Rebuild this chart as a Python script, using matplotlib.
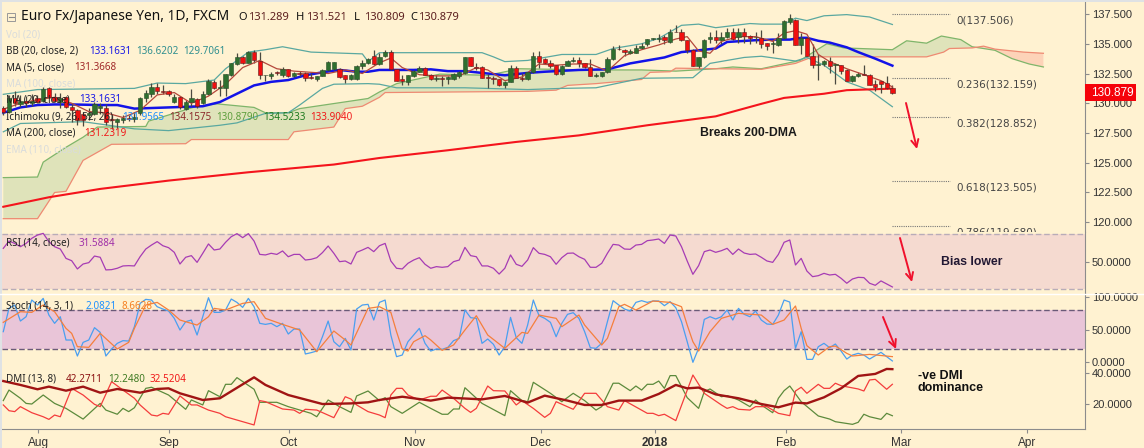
import numpy as np
import matplotlib
matplotlib.use("Agg")
import matplotlib.pyplot as plt
from matplotlib.lines import Line2D
from matplotlib.patches import Rectangle

W, H = 1144, 448
BG = '#fff2d1'

# open, high, low, close, one row per bar
ohlc = [
    (129.6, 129.8, 129.0, 129.3), (129.3, 130.7, 129.2, 130.45), (130.4, 131.0, 129.8, 130.0), (129.9, 130.7, 129.7, 130.2),
    (130.2, 130.6, 129.7, 130.0), (130.0, 130.8, 129.8, 130.2), (130.4, 130.7, 130.0, 130.1), (130.2, 131.4, 130.1, 131.2),
    (131.3, 131.4, 130.4, 130.5), (130.5, 130.9, 130.1, 130.2), (130.1, 130.9, 129.6, 130.4), (130.5, 130.6, 129.6, 129.7),
    (129.7, 129.9, 128.4, 129.4), (129.4, 129.5, 128.2, 128.6), (129.1, 129.3, 128.1, 128.6), (129.0, 129.6, 128.6, 129.2),
    (129.1, 130.1, 129.0, 129.9), (129.6, 130.0, 129.1, 129.75), (129.6, 129.9, 128.2, 128.4), (128.7, 129.1, 127.8, 128.6),
    (128.4, 128.75, 127.9, 128.7), (128.6, 129.0, 128.3, 128.8), (128.8, 129.0, 128.5, 128.65), (128.7, 129.3, 128.4, 128.85),
    (129.2, 130.55, 129.0, 130.4), (130.4, 131.1, 130.1, 130.85), (130.8, 131.7, 130.5, 131.4), (131.4, 131.7, 130.8, 131.0),
    (131.0, 131.55, 130.8, 130.95), (131.0, 131.1, 130.6, 130.75), (130.1, 130.8, 130.0, 130.5), (130.5, 130.6, 129.5, 129.65),
    (129.55, 130.25, 129.4, 130.1), (130.1, 131.2, 129.75, 130.4), (130.35, 130.4, 129.6, 129.8), (130.0, 131.0, 129.9, 130.8),
    (130.75, 132.0, 130.7, 131.85), (131.8, 131.95, 131.2, 131.3), (131.3, 131.95, 130.65, 131.4), (131.3, 132.5, 130.6, 132.45),
    (132.35, 133.4, 132.3, 133.35), (133.3, 134.2, 133.2, 133.85), (133.85, 133.95, 133.3, 133.4), (133.4, 134.4, 133.35, 134.3),
    (134.3, 134.45, 133.4, 133.6), (133.55, 134.3, 132.0, 132.35), (132.35, 132.4, 131.9, 132.4), (132.3, 132.65, 132.0, 132.5),
    (132.65, 132.75, 132.4, 132.55), (132.35, 133.05, 132.2, 132.85), (132.85, 132.9, 132.2, 132.3), (132.3, 132.6, 132.2, 132.55),
    (132.55, 132.7, 132.3, 132.5), (132.55, 132.6, 131.9, 132.15), (132.2, 132.55, 132.0, 132.15), (132.0, 132.3, 131.9, 132.3),
    (132.3, 132.9, 132.25, 132.8), (132.8, 133.55, 132.7, 133.45), (132.9, 133.5, 132.8, 133.45), (132.85, 132.95, 132.1, 132.2),
    (132.35, 132.4, 131.7, 132.0), (132.0, 132.45, 131.95, 132.35), (132.0, 133.2, 131.95, 133.15), (133.15, 133.6, 132.9, 133.4),
    (133.35, 133.8, 133.3, 133.7), (134.0, 134.5, 133.2, 133.3), (133.3, 134.2, 133.2, 133.9), (133.95, 134.5, 133.85, 134.3),
    (134.3, 134.45, 132.8, 132.85), (132.85, 132.9, 131.85, 131.9), (132.05, 132.35, 131.55, 131.9), (131.75, 132.4, 131.55, 132.35),
    (132.3, 132.8, 132.2, 132.7), (132.65, 133.15, 132.6, 133.0), (133.0, 133.05, 132.35, 132.4), (132.4, 132.45, 131.95, 132.0),
    (132.0, 132.35, 131.85, 132.1), (132.1, 132.3, 131.45, 132.05), (132.0, 132.3, 131.6, 132.2), (132.05, 132.55, 131.95, 132.45),
    (132.3, 132.7, 132.15, 132.6), (132.55, 133.9, 132.5, 133.85), (133.85, 133.9, 133.1, 133.1), (133.05, 133.4, 132.8, 132.95),
    (133.05, 133.1, 132.1, 132.15), (132.2, 132.5, 131.25, 132.1), (132.15, 132.3, 131.6, 132.0), (132.0, 132.05, 131.45, 131.5),
    (131.5, 131.85, 131.25, 131.8), (131.8, 133.2, 131.75, 133.0), (133.0, 133.1, 132.1, 132.15), (132.15, 132.55, 131.85, 132.0),
    (132.0, 132.65, 131.95, 132.6), (132.6, 134.3, 132.55, 134.0), (134.0, 134.35, 132.95, 133.45), (133.75, 133.8, 133.3, 133.35),
    (133.35, 133.65, 132.95, 133.15), (133.2, 133.25, 132.35, 132.5), (132.45, 133.2, 132.4, 133.15), (133.15, 133.6, 133.1, 133.55),
    (133.55, 133.9, 133.5, 133.65), (133.6, 133.85, 133.05, 133.35), (133.35, 133.4, 133.0, 133.05), (133.05, 133.7, 132.25, 132.3),
    (132.3, 132.55, 132.2, 132.4), (132.3, 132.65, 132.2, 132.6), (132.6, 133.9, 132.55, 133.7), (133.7, 134.8, 133.6, 134.6),
    (134.6, 134.9, 134.5, 134.55), (134.5, 134.55, 133.95, 134.3), (134.25, 134.6, 134.15, 134.35), (134.25, 134.9, 134.2, 134.65),
    (134.65, 135.05, 134.6, 134.85), (134.95, 135.4, 134.8, 135.4), (135.4, 135.5, 135.35, 135.45), (135.4, 135.8, 135.15, 135.45),
    (135.55, 135.7, 135.0, 135.35), (135.15, 136.2, 135.1, 136.0), (136.0, 136.6, 135.95, 135.95), (136.0, 136.25, 135.25, 135.3),
    (135.3, 135.35, 134.2, 134.5), (134.5, 134.55, 133.15, 133.15), (133.15, 133.9, 133.0, 133.85), (133.85, 135.4, 133.8, 135.35),
    (135.4, 135.95, 135.1, 135.6), (135.6, 136.15, 135.1, 135.35), (135.3, 135.95, 135.0, 135.6), (135.6, 136.3, 135.5, 135.95),
    (135.95, 136.3, 135.3, 135.4), (135.6, 136.3, 135.05, 135.95), (135.95, 136.3, 135.05, 135.65), (135.65, 135.7, 135.0, 135.5),
    (135.55, 135.95, 135.1, 135.6), (135.5, 136.15, 134.65, 135.0), (135.05, 135.1, 134.45, 134.85), (134.95, 135.4, 134.25, 135.05),
    (134.9, 135.9, 134.85, 135.5), (135.5, 137.0, 135.4, 136.95), (136.85, 137.5, 136.7, 137.2), (137.0, 137.05, 134.9, 134.9),
    (134.9, 135.9, 134.1, 135.5), (135.5, 135.55, 134.0, 134.0), (134.0, 135.0, 133.0, 133.2), (133.25, 134.15, 131.95, 133.3),
    (133.3, 133.6, 133.1, 133.55), (133.55, 133.85, 132.55, 133.15), (133.2, 133.4, 131.65, 133.3), (133.2, 133.25, 132.5, 132.7),
    (132.8, 132.85, 131.85, 131.85), (131.85, 132.35, 131.8, 132.3), (132.25, 132.6, 132.2, 132.5), (132.45, 133.2, 132.35, 132.4),
    (132.4, 132.45, 131.5, 131.55), (131.6, 131.95, 131.0, 131.4), (131.85, 131.9, 130.9, 131.65), (131.7, 132.25, 131.2, 131.3),
    (131.289, 131.521, 130.809, 130.879),
]

ma5_x = [0, 3, 6, 9, 12, 15, 18, 21, 24, 27, 30, 33, 36, 39, 42, 45, 48, 51, 54, 57, 60, 63, 66, 68, 70, 73, 76, 80, 83, 85, 88, 91, 94,
         97, 100, 103, 106, 109, 112, 115, 118, 120, 122, 124, 126, 129, 132, 135, 137, 139, 141, 143, 145, 148, 151, 154, 156]
ma5_y = [129.5, 130, 130.3, 130.5, 130, 129.3, 129.2, 128.8, 129.4, 130.7, 130.9, 130, 130.6, 131.6, 133, 133.6, 132.9, 132.7, 132.6, 132.5,
         132.8, 132.5, 133.4, 133.8, 133, 132.4, 132.3, 132.3, 133, 132.8, 131.9, 132.2, 133.3, 133.2, 133.3, 133.3, 132.7, 134, 134.5, 134.9,
         135.4, 135.6, 134.4, 134.2, 135.2, 135.6, 135.6, 135.2, 135.9, 136.1, 135.8, 134.1, 133.5, 132.9, 132.4, 131.9, 131.37]

bb_mid_x = [0, 3, 6, 9, 12, 17, 20, 23, 29, 35, 38, 41, 44, 47, 50, 53, 56, 59, 62, 64, 66, 72, 75, 78, 81, 84, 88, 92, 95, 101, 106, 110,
            113, 116, 119, 122, 125, 127, 132, 135, 138, 140, 141, 143, 145, 148, 150, 153, 156]
bb_mid_y = [129.2, 129.65, 129.85, 129.9, 129.9, 129.85, 129.85, 129.55, 129.65, 129.75, 130.1, 130.8, 131.5, 131.8, 131.95, 132.35, 132.6,
            132.8, 132.65, 132.65, 132.8, 132.8, 132.85, 132.7, 132.7, 132.55, 132.35, 132.55, 132.65, 132.8, 132.85, 133.35, 133.6, 133.85,
            134.3, 134.45, 134.6, 135.15, 135.3, 135.35, 135.35, 135.5, 135.5, 135.25, 135.1, 134.7, 134.3, 133.75, 133.16]

bb_up_x = [0, 6, 23, 27, 32, 37, 39, 43, 46, 49, 54, 63, 64, 66, 72, 84, 86, 88, 92, 98, 104, 107, 112, 115, 119, 122, 125, 131, 133, 137,
           139, 141, 144, 148, 152, 156]
bb_up_y = [130.75, 131.15, 131.25, 131.7, 131.65, 131.95, 132.9, 134.3, 134.5, 134.75, 134.3, 134.15, 133.5, 134.25, 134.25, 134.25, 133.9,
           133.5, 133.6, 134.1, 134.1, 134.6, 135, 135.45, 136.55, 136.65, 136.35, 136.7, 136.65, 136.65, 137.15, 136.95, 137.35, 137.45,
           137.25, 136.62]

bb_lo_x = [0, 3, 14, 23, 29, 38, 41, 46, 50, 52, 56, 58, 64, 66, 69, 75, 81, 92, 98, 104, 112, 121, 124, 130, 133, 139, 141, 144, 148, 152, 156]
bb_lo_y = [127.6, 128.3, 128.45, 127.85, 127.7, 128.15, 128.35, 129.15, 129.2, 129.85, 131.25, 131.6, 131.65, 131.6, 131.3, 131.3, 131.3,
           131.15, 131.25, 131.3, 132.1, 132.15, 133.35, 133.85, 133.95, 133.55, 133.85, 133.2, 131.8, 131.1, 129.71]

ma200_x = [0, 8, 17, 29, 43, 58, 66, 78, 90, 101, 113, 125, 133, 137, 144, 148, 156]
ma200_y = [121.3, 122.1, 122.8, 123.5, 124.2, 124.85, 125.4, 126.05, 126.75, 127.3, 128.15, 128.9, 129.95, 130.45, 130.8, 131.1, 131.23]

span_a_x = [0, 6, 7, 11, 14, 16.5, 25, 25.5, 34, 37.5, 44, 46, 50, 52, 64, 66, 69, 76.6, 85, 90.6, 103.5, 112, 118, 125, 128, 133, 139.8,
            144.5, 147.5, 156, 158.5, 162, 164.6, 168, 170, 174, 177, 180, 182.5]
span_a_y = [123.75, 123.8, 125.05, 126.3, 127.15, 128, 128.05, 128.5, 129.75, 129.95, 129.65, 129.2, 129.2, 129.55, 130.4, 130.95, 131.65,
            132.45, 132.35, 132.9, 132.8, 132.8, 132.7, 132.9, 133.05, 132.9, 133.6, 135, 134.65, 134.5, 135.25, 135.05, 135.65, 135.35,
            134.75, 134.45, 133.75, 133.3, 133.05]

span_b_x = [0, 6, 9, 11, 14, 19, 32, 33, 50, 51, 58, 60, 63, 66, 67, 92, 97, 99, 104, 112, 113.5, 117, 118, 133, 139, 142, 162, 165, 166,
            170, 172, 174, 179, 182.5]
span_b_y = [120.3, 120.3, 122.5, 122.6, 125.2, 126.55, 126.6, 126.95, 126.95, 127.6, 128, 129.55, 129.75, 130.5, 130.9, 131, 131.1, 131.5,
            131.65, 132, 132.6, 132.65, 132.95, 132.85, 133.35, 133.9, 133.9, 134.3, 134.6, 134.65, 134.8, 134.55, 134.3, 134.2]

rsi = [59.7, 65.0, 63.3, 60.9, 63.3, 67.0, 69.4, 70.6, 64.6, 60.9, 59.2, 52.4, 50.7, 44.7, 48.3, 49.3, 54.1, 53.2, 44.0, 44.2,
       45.2, 46.9, 47.1, 46.9, 53.6, 59.2, 62.1, 64.6, 61.6, 60.2, 56.8, 48.3, 53.2, 54.4, 49.5, 56.1, 62.9, 58.5, 59.2, 64.1,
       68.2, 70.4, 67.5, 70.4, 65.0, 55.3, 54.9, 56.1, 55.3, 57.8, 53.6, 55.3, 55.3, 51.2, 51.7, 52.9, 56.6, 61.4, 56.1, 50.0,
       50.5, 48.3, 56.8, 58.5, 60.4, 57.3,
       61.6, 63.3, 50.5, 45.2, 44.7, 48.8, 51.2, 52.9, 48.1, 45.2, 46.4, 45.9, 46.4, 50.0, 51.2, 60.4, 54.4, 53.6, 46.9, 46.9,
       45.2, 41.0, 45.2, 54.9, 48.1, 46.6, 51.2, 60.2, 56.1, 55.3, 53.6, 48.1, 52.9, 56.1, 56.3, 53.6, 51.7, 45.9, 45.9, 48.8,
       56.1, 62.6, 62.1, 59.2, 59.0, 62.1, 62.6, 65.3, 65.8, 66.5, 63.3, 69.4, 68.7, 60.9, 50.5, 40.8, 47.1, 57.3, 58.5, 56.8,
       58.0, 59.7, 55.3, 59.2, 56.3, 55.3, 55.6,
       53.2, 50.5, 49.5, 55.3, 64.1, 65.8, 47.6, 52.4, 43.2, 39.1, 39.8, 41.5, 40.3, 40.8, 37.9, 34.3, 37.4, 38.6, 38.4, 34.3,
       32.8, 36.0, 33.8, 31.6]

stoch_k = [46.7, 82.2, 87.3, 62.9, 69.5, 94.9, 87.3, 97.4, 72.0, 59.4, 69.5, 34.0, 34.0, 9.6, 30.4, 34.0, 52.8, 45.6, 9.6, 20.3,
           28.9, 33.0, 32.4, 54.3, 89.8, 95.9, 94.9, 84.7, 81.2, 78.1, 67.0, 49.2, 61.9, 64.4, 41.6, 69.5, 98.4, 76.1, 76.1, 79.7,
           96.4, 91.3, 83.7, 97.4, 84.7, 59.4, 57.8, 59.4, 54.3, 59.4, 43.1, 50.7, 50.7, 12.7, 14.7, 17.2, 39.0, 62.9, 31.4, 23.8,
           36.5, 18.7, 81.2, 87.3, 88.3, 64.4, 91.3,
           94.9, 41.6, 8.6, 11.1, 31.4, 41.6, 51.7, 28.9, 17.2, 20.3, 19.8, 22.8, 33.0, 36.5, 79.7, 68.0, 67.0, 28.9, 35.5, 27.4,
           11.1, 23.8, 68.5, 37.5, 28.9, 56.8, 94.9, 71.0, 67.0, 60.9, 39.0, 59.4, 73.1, 75.6, 67.0, 46.7, 22.3, 21.3, 28.9, 61.9,
           93.9, 87.3, 81.2, 78.1, 91.3, 93.9, 91.3, 93.4, 93.4, 86.3, 92.4, 83.2, 61.9, 31.4, 0.0, 21.3, 65.4, 69.5, 66.0, 69.5,
           79.7, 64.4, 82.2, 73.1, 69.5, 78.1,
           64.4, 58.3, 57.8, 72.0, 94.9, 91.8, 21.3, 46.7, 4.5, 4.5, 23.8, 28.9, 22.3, 27.9, 17.2, 5.0, 11.1, 13.7, 11.1, 5.0, 10.1,
           15.2, 8.6, 2.08]

stoch_d_x = [0, 3, 5, 7, 9, 11, 12, 13, 15, 17, 20, 22, 23, 25, 27, 29, 31, 34, 36, 37, 39, 42, 44, 46, 49, 52, 55, 58, 60, 61, 64,
             66, 68, 69, 70, 71, 72, 74, 75, 77, 79, 81, 83, 85, 88, 91, 92, 94, 97, 98, 101, 102, 105, 106, 108, 109, 111, 114, 117,
             119, 120, 121, 122, 124, 126, 129, 133, 135, 137, 139, 140, 141, 143, 145, 146, 148, 149, 152, 156]
stoch_d = [60.9, 77.1, 76.1, 87.3, 77.1, 51.7, 44.1, 23.8, 22.8, 44.1, 20.3, 30.4, 51.7, 87.3, 91.3, 79.7, 64.4, 56.8, 69.5, 82.2, 79.7,
           89.8, 92.4, 67.0, 57.8, 49.2, 16.2, 47.7, 34.0, 26.4, 82.2,
           84.7, 76.1, 46.7, 20.3, 17.2, 31.4, 40.6, 34.0, 18.2, 26.4, 49.2, 71.0, 41.6, 21.3, 45.6, 44.1, 72.0, 67.0, 54.3, 72.0, 56.8,
           26.4, 36.5, 84.7, 88.3, 79.7, 93.4, 91.3, 84.7, 56.8, 31.4, 17.2, 46.7, 67.0, 74.6, 72.0,
           57.8, 64.4, 85.8, 51.7, 25.4, 11.1, 23.8, 24.8, 13.7, 9.6, 12.1, 8.66]

adx_x = [0, 3, 6, 8, 11, 14, 17, 20, 24, 27, 29, 31, 35, 38, 44, 46, 50, 56, 61, 64, 66, 70, 75, 78, 84, 88, 92, 95, 99, 102, 105, 108, 112,
         115, 118, 120, 122, 125, 129, 133, 136, 139, 141, 144, 147, 150, 153, 155, 156]
adx = [34.6, 32.1, 29.3, 31.0, 28.4, 31.0, 27.1, 29.5, 27.1, 29.5, 29.9, 26.7, 22.4, 23.5, 37.0, 32.1, 25.6, 19.8, 20.2, 20.9, 22.4, 24.5,
       22.0, 23.9, 22.8, 25.0, 20.7, 25.2, 22.0, 19.2, 19.2, 22.0, 22.0, 26.3, 32.1, 29.9, 30.4, 26.0, 23.5, 19.8, 17.7, 20.7, 20.2, 24.1,
       29.9, 37.9, 39.2, 42.4, 42.27]

di_plus_x = [0, 1, 3, 4, 5, 7, 9, 11, 14, 17, 18, 20, 21, 22, 23, 25, 26, 29, 32, 33, 35, 36, 38, 39, 40, 41, 44, 45, 48, 50, 54, 55, 57, 59,
             61, 62, 64, 66, 67, 68, 70, 73, 75, 77, 78, 79, 80, 81, 84, 88, 89, 91, 92, 93, 96, 98, 100, 102, 104, 105, 107, 108, 110, 111,
             112, 113, 114, 115, 116, 117, 118, 120, 122, 123, 124, 126, 127, 129, 131, 132, 133, 135, 136, 137, 138, 140, 143, 145, 146,
             149, 150, 151, 152, 154, 155, 156]
di_plus = [22.0, 28.8, 23.5, 20.2, 19.8, 25.6, 20.2, 17.0, 10.1, 20.2, 15.9, 13.2, 17.0, 14.9, 17.4, 29.9, 30.6, 25.6, 16.4, 22.4, 19.2,
           28.4, 24.5, 32.5, 32.5, 36.8, 29.3, 20.9, 20.9, 18.1, 13.8, 11.6, 22.4, 18.1, 14.4, 25.0, 28.2, 22.0,
           23.9, 18.1, 13.8, 20.9, 17.0, 13.2, 13.2, 16.6, 16.6, 30.3, 20.2, 12.3, 28.4, 22.0, 21.3, 33.8, 26.7, 21.3, 26.7, 22.0, 15.9,
           18.1, 33.2, 33.2, 28.4, 31.4, 28.8, 32.5, 32.5, 34.6, 29.9, 38.1, 38.1, 23.9, 17.0, 27.8, 29.5, 24.5, 25.2, 22.4, 18.1, 22.4,
           19.2, 14.2, 23.5, 28.4, 31.4, 21.3, 12.1, 10.1, 8.4, 6.7, 8.0, 13.2, 11.6, 9.9, 13.8, 12.25]

di_minus_x = [0, 1, 2, 3, 5, 7, 8, 9, 10, 12, 14, 16, 17, 19, 21, 23, 24, 26, 27, 28, 29, 31, 33, 34, 36, 38, 39, 44, 45, 46, 49, 51, 52, 53,
              55, 58, 60, 61, 62, 64, 66, 67, 68, 69, 70, 71, 73, 75, 76, 77, 79, 81, 82, 83, 85, 86, 88, 90, 91, 93, 95, 96, 97, 100, 102, 104,
              106, 108, 109, 113, 114, 115, 116, 118, 121, 123, 126, 127, 128, 129, 131, 132, 134, 136, 138, 139, 140, 141, 143, 144, 145,
              146, 147, 150, 151, 152, 153, 155, 156]
di_minus = [19.2, 15.5, 14.9, 18.1, 14.2, 11.6, 9.9, 12.7, 11.6, 29.9, 25.6, 19.6, 18.1, 34.2, 28.8, 23.5, 19.2, 12.7, 12.1, 13.8, 13.2,
            25.0, 19.2, 19.2, 15.9, 13.8, 11.6, 6.3, 22.0, 21.3, 16.6, 15.9, 13.8, 16.4, 15.9, 11.0, 24.5, 23.0, 19.2, 14.9, 12.7,
            11.0, 25.6, 29.9, 29.9, 25.6, 22.4, 24.8, 24.8, 28.8, 23.5, 17.0, 14.4, 17.0, 31.4, 28.4, 28.2, 19.2, 22.0, 17.0, 11.2, 13.8,
            21.3, 16.4, 26.7, 26.7, 18.1, 15.9, 22.0, 13.8, 13.8, 12.3, 13.2, 9.1, 38.5, 26.7, 19.2, 17.0, 18.1, 16.4, 15.9, 18.1,
            18.1, 13.8, 12.3, 28.2, 30.6, 26.7, 32.5, 29.9, 29.9, 33.2, 31.6, 29.5, 28.2, 35.3, 35.7, 29.3, 32.52]

fib_levels = [137.506, 132.159, 128.852, 123.505, 119.68]
fib_labels = ['0(137.506)', '0.236(132.159)', '0.382(128.852)', '0.618(123.505)', '0.786(119.680)']

price_ticks = [120, 122.5, 125, 127.5, 130, 132.5, 135, 137.5]
month_pos = [6.1, 29.1, 50.1, 72.2, 94.3, 114.3, 137.4, 157.6, 179.6]
month_labels = ['Aug', 'Sep', 'Oct', 'Nov', 'Dec', '2018', 'Feb', 'Mar', 'Apr']


def make_ax(top, bottom, ylim):
    ax = fig.add_axes([2 / W, 1 - bottom / H, 1083 / W, (bottom - top) / H], facecolor=BG)
    ax.set_xlim(-0.228, 189.8)
    ax.set_ylim(*ylim)
    for s in ['top', 'left', 'bottom']:
        ax.spines[s].set_visible(False)
    ax.spines['right'].set_color('#8c8c8c')
    ax.yaxis.tick_right()
    ax.tick_params(axis='y', length=3, color='#8c8c8c', labelsize=8, labelcolor='#333333', pad=2)
    ax.set_xticks([])
    return ax


def px_text(x, y, s, color='black', size=7, **kw):
    kw.setdefault('family', 'DejaVu Sans')
    fig.text(x / W, 1 - y / H, s, color=color, fontsize=size, va='center', ha='left', zorder=20, **kw)


def px_arrow(x0, y0, x1, y1):
    fig.add_artist(matplotlib.patches.FancyArrowPatch(
        (x0 / W, 1 - y0 / H), (x1 / W, 1 - y1 / H), transform=fig.transFigure,
        arrowstyle='->', mutation_scale=13, color='#f0102c', lw=1.4, shrinkA=0, shrinkB=0, zorder=20))


plt.rcParams['font.family'] = ['Liberation Sans', 'DejaVu Sans']
fig = plt.figure(figsize=(W / 100, H / 100), dpi=100, facecolor=BG)

# price pane
ax = make_ax(2, 232, (119.18, 138.51))
grid = np.arange(0, 182.51, 0.1)
a = np.interp(grid, span_a_x, span_a_y)
b = np.interp(grid, span_b_x, span_b_y)
ax.fill_between(grid, a, b, where=a >= b, color='#dfe3ba', lw=0, interpolate=True, zorder=1)
ax.fill_between(grid, a, b, where=a < b, color='#fdd3b8', lw=0, interpolate=True, zorder=1)
ax.plot(span_a_x, span_a_y, color='#7fb56a', lw=0.9, zorder=2)
ax.plot(span_b_x, span_b_y, color='#ee8a72', lw=0.9, zorder=2)
ax.plot(bb_up_x, bb_up_y, color='#5aa8a0', lw=0.9, zorder=2)
ax.plot(bb_lo_x, bb_lo_y, color='#5aa8a0', lw=0.9, zorder=2)
ax.plot(ma200_x, ma200_y, color='#f4141c', lw=1.5, zorder=3)
ax.plot(bb_mid_x, bb_mid_y, color='#1212e8', lw=1.8, zorder=3)
ax.plot(ma5_x, ma5_y, color='#b5483c', lw=0.9, zorder=5)

opens, highs, lows, closes = np.array(ohlc).T
idx = np.arange(len(opens))
up = closes >= opens
ax.vlines(idx, lows, highs, color='#4a4a40', lw=0.9, zorder=4)
ax.bar(idx[up], (closes - opens)[up], bottom=opens[up], width=0.76, color='#2f6f2f', edgecolor='#2a4a2a', lw=0.4, zorder=6)
ax.bar(idx[~up], (opens - closes)[~up], bottom=closes[~up], width=0.76, color='#f00f0f', edgecolor='#5a2020', lw=0.4, zorder=6)

ax.set_yticks(price_ticks)
ax.set_yticklabels(['%.3f' % t for t in price_ticks])

for level, label in zip(fib_levels, fib_labels):
    ax.hlines(level, 156, 166.2, color='#777777', lw=0.8, linestyles=(0, (1, 1)), zorder=2)
    ax.annotate(label, (167.2, level), xytext=(0, -5), textcoords='offset points', color='#444444',
                fontsize=7.5, family='DejaVu Sans', va='center', annotation_clip=False)
ax.text(700 / 5.7 - 0.6, 127.5, 'Breaks 200-DMA', fontsize=8.8, fontweight='bold', color='#1a1a1a', va='center')

# RSI pane
ax_rsi = make_ax(232, 293, (27.2, 71.6))
ax_rsi.axhspan(30, 70, color='#f5dad0', lw=0, zorder=0)
ax_rsi.axhline(70, color='#b8acb8', lw=1, ls=(0, (4, 2)))
ax_rsi.axhline(30, color='#b8acb8', lw=1, ls=(0, (4, 2)))
ax_rsi.plot(np.arange(len(rsi)), rsi, color='#a63cb4', lw=0.9)
ax_rsi.set_yticks([50])
ax_rsi.set_yticklabels(['50.0000'])

# stochastic pane
ax_st = make_ax(293, 366, (-5.6, 105.6))
ax_st.axhspan(20, 80, color='#e9c5d8', lw=0, zorder=0)
ax_st.axhline(80, color='#6a5a78', lw=1, ls=(0, (4, 2)))
ax_st.axhline(20, color='#6a5a78', lw=1, ls=(0, (4, 2)))
ax_st.plot(np.arange(len(stoch_k)), stoch_k, color='#4a9ff0', lw=0.9)
ax_st.plot(stoch_d_x, stoch_d, color='#f57f3c', lw=0.9)
ax_st.set_yticks([0, 50, 100])
ax_st.set_yticklabels(['0.0000', '50.0000', '100.0000'])

# DMI pane
ax_dmi = make_ax(366, 429, (3.7, 44.3))
ax_dmi.plot(di_plus_x, di_plus, color='#5c8a3c', lw=0.9)
ax_dmi.plot(di_minus_x, di_minus, color='#f43c3c', lw=0.9)
ax_dmi.plot(adx_x, adx, color='#a01414', lw=1.7)
ax_dmi.set_yticks([20, 40])
ax_dmi.set_yticklabels(['20.0000', '40.0000'])
ax_dmi.spines['bottom'].set_visible(True)
ax_dmi.spines['bottom'].set_color('#8c8c8c')
ax_dmi.set_xticks(month_pos)
ax_dmi.set_xticklabels(month_labels)
ax_dmi.tick_params(axis='x', length=3, color='#8c8c8c', labelsize=8.5, labelcolor='#333333', pad=3)
ax_dmi.get_xticklabels()[5].set_fontweight('bold')

# frame strips and separator
fig.add_artist(Rectangle((0, 0), 2 / W, 1, transform=fig.transFigure, color='#dfe2e4', lw=0, zorder=15))
fig.add_artist(Rectangle((0, 1 - 2 / H), 1, 2 / H, transform=fig.transFigure, color='#dfe2e4', lw=0, zorder=15))
fig.add_artist(Line2D([0, 1], [1 - 293.5 / H] * 2, color='white', lw=1, zorder=15))

# last price tag
fig.add_artist(Rectangle((1085 / W, 1 - 101 / H), 51 / W, 17 / H, transform=fig.transFigure, color='#f5020a', lw=0, zorder=16))
fig.text(1112 / W, 1 - 92.8 / H, '130.879', color='white', fontsize=8.5, ha='center', va='center', zorder=17)

# header and legend rows
fig.add_artist(Rectangle((7 / W, 1 - 21 / H), 8 / W, 8 / H, transform=fig.transFigure, fc='none', ec='#999999', lw=0.7, zorder=20))
fig.add_artist(Line2D([8.5 / W, 13.5 / W], [1 - 17 / H] * 2, color='#888888', lw=0.8, zorder=20))
px_text(21, 17, 'Euro Fx/Japanese Yen, 1D, FXCM', color='#111111', size=9.9, family='Noto Sans')
for x, s, c in [(238, 'O', '#111111'), (248, '131.289', '#5c1f1f'), (296, 'H', '#111111'), (306, '131.521', '#5c1f1f'),
                (354, 'L', '#111111'), (364, '130.809', '#5c1f1f'), (410, 'C', '#111111'), (418, '130.879', '#5c1f1f')]:
    px_text(x, 18, s, color=c, size=8, family='Noto Sans')

legend_rows = [
    (6, 35, 'Vol (20)', '#d9dcdc'), (6, 51, 'BB (20, close, 2)', '#222222'), (89, 51, '133.1631', '#1a1ae6'),
    (136, 51, '136.6202', '#2f8f8f'), (183, 51, '129.7061', '#2f8f8f'), (6, 68, 'MA (5, close)', '#222222'),
    (74, 68, '131.3668', '#a02828'), (6, 84, 'MA (100, close)', '#d9dcdc'), (6, 100, 'MA (20, close)', '#222222'),
    (79, 100, '133.1631', '#1a1ae6'), (6, 117, 'Ichimoku (9, 26, 52, 26)', '#222222'), (122, 117, '131.9565', '#1e90ff'),
    (169, 117, '134.1575', '#8b2a2a'), (216, 117, '130.8790', '#5c9e3c'), (263, 117, '134.5233', '#1f7a1f'),
    (310, 117, '133.9040', '#f01818'), (6, 133, 'MA (200, close)', '#222222'), (84, 133, '131.2319', '#f01818'),
    (6, 150, 'EMA (110, close)', '#d9dcdc'), (6, 243, 'RSI (14, close)', '#222222'), (79, 243, '31.5884', '#a030a8'),
    (6, 306, 'Stoch (14, 3, 1)', '#222222'), (85, 306, '2.0821', '#1e90ff'), (122, 306, '8.6628', '#f57f20'),
    (6, 379, 'DMI (13, 8)', '#222222'), (66, 379, '42.2711', '#8b1010'), (108, 379, '12.2480', '#3f7a22'),
    (150, 379, '32.5204', '#f01818'),
]
for x, y, s, c in legend_rows:
    px_text(x, y, s, color=c, size=7.1, family='Noto Sans')

px_text(941, 262, 'Bias lower', color='#221833', size=8.8, family='Liberation Sans', fontweight='bold')
px_text(918, 376, '-ve DMI', color='#111111', size=9, family='Liberation Sans', fontweight='bold')
px_text(918, 388, 'dominance', color='#111111', size=9, family='Liberation Sans', fontweight='bold')

px_arrow(906, 103, 917, 149)
px_arrow(900, 238, 912, 282)
px_arrow(883, 317, 896, 349)

fig.savefig('out.png', dpi=100, facecolor=BG)
